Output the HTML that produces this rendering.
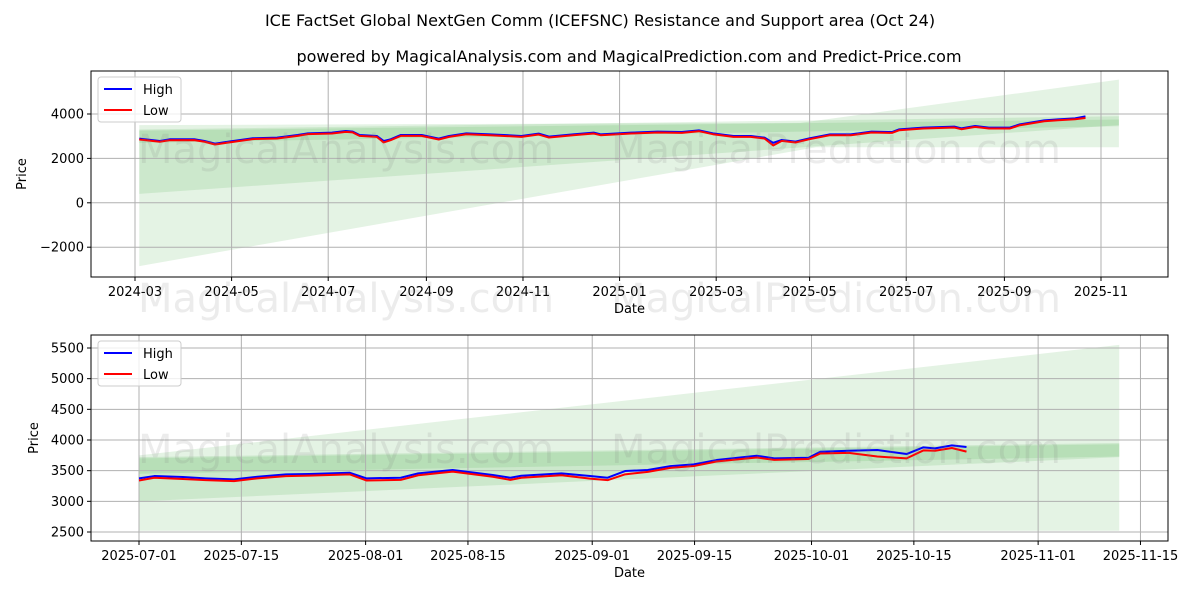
<!DOCTYPE html>
<html><head><meta charset="utf-8"><style>
body{margin:0;background:#fff;}
svg text{font-family:"DejaVu Sans","Liberation Sans",sans-serif;}
</style></head><body>
<svg id="c" width="1200" height="600" xmlns="http://www.w3.org/2000/svg">
<rect width="1200" height="600" fill="#fff"/>
<text x="600" y="26" text-anchor="middle" font-size="16">ICE FactSet Global NextGen Comm (ICEFSNC) Resistance and Support area (Oct 24)</text>
<text x="629" y="62" text-anchor="middle" font-size="16">powered by MagicalAnalysis.com and MagicalPrediction.com and Predict-Price.com</text>
<g id="top"></g>
<g id="bot"></g>
</svg>
<script>
// ---- top chart data (days since 2024-03-01) ----
const topDays=[2.7,15.7,22.2,37.4,43.9,50.5,59.2,74.4,89.7,102.7,109.2,124.4,133.1,137.5,141.8,152.7,157,161.4,167.9,181,191.8,198.3,209.2,224.4,244,254.9,261.4,276.6,289.7,294,313.2,330,345.3,356.1,364.9,377.9,388.8,397.5,403,408.4,417.1,425.9,438.9,452,465.1,478.2,482.6,497.8,517.4,521.8,530.5,539.2,552.3,558.8,574.1,582.8,593.6,600.2];
const topHigh=[2889,2785,2861,2861,2785,2665,2755,2906,2935,3055,3130,3160,3235,3205,3055,3010,2785,2860,3055,3055,2890,3010,3130,3085,3010,3115,2980,3085,3160,3085,3160,3205,3190,3265,3130,3010,3010,2935,2700,2830,2755,2905,3085,3085,3205,3190,3310,3385,3430,3355,3460,3385,3385,3535,3715,3760,3805,3895];
const topLow=[2850,2750,2820,2825,2750,2625,2715,2870,2895,3015,3095,3120,3195,3170,3015,2970,2720,2820,3015,3015,2850,2970,3090,3045,2970,3075,2940,3045,3120,3045,3120,3165,3150,3225,3090,2970,2970,2895,2580,2790,2715,2865,3045,3045,3165,3150,3270,3345,3390,3315,3420,3345,3345,3495,3675,3720,3765,3820];
const topBandLight=[[2.7,3500],[420,3600],[621.3,5550],[621.3,2500],[430,2500],[2.7,-2850]];
const topBandMid=[[2.7,3300],[621.3,3900],[621.3,3500],[2.7,400]];
const topBandDark=[[2.7,3250],[621.3,3750],[621.3,3450],[2.7,2700]];
const topYTicks=[-2000,0,2000,4000];
const topXTickDays=[0,61,122,184,245,306,367,426,487,549,610];
const topXTickLabels=["2024-03","2024-05","2024-07","2024-09","2024-11","2025-01","2025-03","2025-05","2025-07","2025-09","2025-11"];
// ---- bottom chart data (days since 2025-07-01) ----
const botDays=[0,2.1,6,9.1,13,16.2,20.1,23.3,28.8,31.1,35.8,38.2,42.9,48.4,50.8,52.3,57.8,61.7,64.1,66.5,69.6,72.7,75.9,79,84.5,86.9,91.6,93.2,97.1,101,105,107.3,108.9,111.2,113.2];
const botHigh=[3375,3412,3396,3375,3358,3401,3440,3445,3466,3375,3385,3456,3510,3429,3385,3417,3456,3412,3385,3494,3510,3575,3603,3673,3743,3701,3711,3809,3825,3836,3771,3880,3864,3913,3885];
const botLow=[3340,3385,3365,3345,3330,3375,3410,3420,3440,3340,3350,3425,3485,3400,3350,3385,3425,3370,3345,3440,3480,3545,3575,3650,3715,3675,3690,3780,3790,3730,3700,3830,3825,3870,3810];
const botBandLight=[[0,3750],[134.1,5550],[134.1,2520],[0,2520]];
const botBandMid=[[0,3720],[134.1,3950],[134.1,3720],[0,3000]];
const botBandDark=[[0,3700],[134.1,3930],[134.1,3730],[0,3450]];
const botYTicks=[2500,3000,3500,4000,4500,5000,5500];
const botXTickDays=[0,14,31,45,62,76,92,106,123,137];
const botXTickLabels=["2025-07-01","2025-07-15","2025-08-01","2025-08-15","2025-09-01","2025-09-15","2025-10-01","2025-10-15","2025-11-01","2025-11-15"];

const NS="http://www.w3.org/2000/svg";
function mk(parent,tag,attrs){const e=document.createElementNS(NS,tag);for(const k in attrs)e.setAttribute(k,attrs[k]);parent.appendChild(e);return e;}

function panel(g,cfg){
  const {x0,x1,y0,y1,sx,sy}=cfg;
  const clipId=cfg.id+"clip";
  const defs=mk(g,"defs",{});const cp=mk(defs,"clipPath",{id:clipId});mk(cp,"rect",{x:x0,y:y0,width:x1-x0,height:y1-y0});
  const bands=[[cfg.light,"band-wide"],[cfg.mid,"band-mid"],[cfg.dark,"band-narrow"]];
  bands.forEach(([b,n])=>{
    const p=mk(g,"polygon",{points:b.map(q=>sx(q[0])+","+sy(q[1])).join(" "),fill:"#2ca02c","fill-opacity":"0.13","clip-path":"url(#"+clipId+")"});
    
    
  });
  cfg.yt.forEach(v=>{
    const y=sy(v);
    const l=mk(g,"line",{x1:x0,x2:x1,y1:y,y2:y,stroke:"#b0b0b0","stroke-width":1});
    
    
    mk(g,"line",{x1:x0-4,x2:x0,y1:y,y2:y,stroke:"#000"});
    const t=mk(g,"text",{x:x0-7,y:y+4.5,"text-anchor":"end","font-size":13});t.textContent=(v<0?"\u2212"+(-v):v);
    
    
  });
  cfg.xt.forEach((d,i)=>{
    const x=sx(d);
    const l=mk(g,"line",{x1:x,x2:x,y1:y0,y2:y1,stroke:"#b0b0b0","stroke-width":1});
    
    
    mk(g,"line",{x1:x,x2:x,y1:y1,y2:y1+4,stroke:"#000"});
    const t=mk(g,"text",{x:x,y:y1+19,"text-anchor":"middle","font-size":13});t.textContent=cfg.xl[i];
    
    
  });
  [[cfg.high,"#0000ff","high-line"],[cfg.low,"#ff0000","low-line"]].forEach(([vals,c,n])=>{
    const p=mk(g,"polyline",{points:cfg.days.map((d,i)=>sx(d)+","+sy(vals[i])).join(" "),fill:"none",stroke:c,"stroke-width":cfg.lw,"stroke-linejoin":"round"});
    
    
  });
  cfg.wm.forEach(w=>{
    const t=mk(g,"text",{x:w[0],y:w[1],"text-anchor":"middle","font-size":40,fill:"#808080","fill-opacity":"0.15"});t.textContent=w[2];
    
    
  });
  const fr=mk(g,"rect",{x:x0,y:y0,width:x1-x0,height:y1-y0,fill:"none",stroke:"#000","stroke-width":1});
  
  
  const xt=mk(g,"text",{x:(x0+x1)/2,y:y1+36,"text-anchor":"middle","font-size":13});xt.textContent="Date";
  
  
  const yt=mk(g,"text",{x:0,y:0,"text-anchor":"middle","font-size":13,transform:"translate("+cfg.ylx+","+((y0+y1)/2)+") rotate(-90)"});yt.textContent="Price";
  
  
  const lg=mk(g,"g",{});
  
  
  mk(lg,"rect",{x:x0+7,y:y0+6,width:83,height:45,rx:3,fill:"#fff","fill-opacity":"0.8",stroke:"#ccc"});
  [["High","#0000ff",0],["Low","#ff0000",21]].forEach(([n,c,o])=>{
    mk(lg,"line",{x1:x0+13,x2:x0+41,y1:y0+18+o,y2:y0+18+o,stroke:c,"stroke-width":2});
    const t=mk(lg,"text",{x:x0+52,y:y0+23+o,"font-size":13});t.textContent=n;
    
    
  });
}
panel(document.getElementById("top"),{id:"t",x0:91,x1:1168,y0:71,y1:277,
  sx:d=>135+1.5836*d, sy:v=>114-(v-4000)*0.0222,
  light:topBandLight,mid:topBandMid,dark:topBandDark,yt:topYTicks,xt:topXTickDays,xl:topXTickLabels,
  days:topDays,high:topHigh,low:topLow,lw:2,ylx:26,
  wm:[[346,163,"MagicalAnalysis.com"],[836,163,"MagicalPrediction.com"],[346,312,"MagicalAnalysis.com"],[836,312,"MagicalPrediction.com"]]});
panel(document.getElementById("bot"),{id:"b",x0:91,x1:1168,y0:335,y1:541,
  sx:d=>139+7.31*d, sy:v=>348+(5500-v)*0.06133,
  light:botBandLight,mid:botBandMid,dark:botBandDark,yt:botYTicks,xt:botXTickDays,xl:botXTickLabels,
  days:botDays,high:botHigh,low:botLow,lw:2,ylx:38,
  wm:[[346,463,"MagicalAnalysis.com"],[836,463,"MagicalPrediction.com"]]});
</script>
</body></html>
